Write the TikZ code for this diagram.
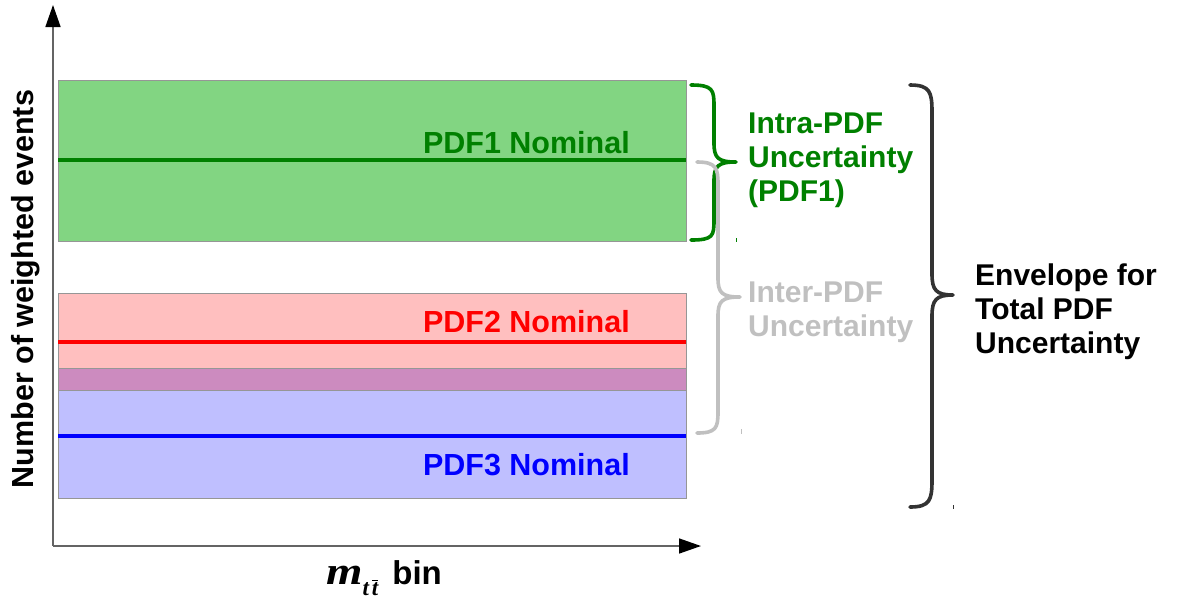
\documentclass[tikz,border=0pt]{standalone}
\usepackage{fontspec}
\setmainfont{Liberation Sans}
\newfontfamily\tnr{Liberation Serif}
\usetikzlibrary{arrows.meta}
\definecolor{greenfill}{RGB}{130,213,130}
\definecolor{dkgreen}{RGB}{0,128,0}
\definecolor{pinkfill}{RGB}{255,191,191}
\definecolor{bluefill}{RGB}{191,191,255}
\definecolor{overlapfill}{RGB}{204,139,191}
\definecolor{boxborder}{RGB}{150,150,150}
\definecolor{lightgray}{RGB}{192,192,192}
\definecolor{darkbrace}{RGB}{51,51,51}
\definecolor{axisgray}{RGB}{100,100,100}
\tikzset{
  band/.style={draw=boxborder, line width=1pt},
  nominal/.style={line width=3.8pt},
  bigtext/.style={font=\bfseries\fontsize{30.5}{34}\selectfont, inner sep=0pt},
  sidetext/.style={font=\bfseries\fontsize{30}{34}\selectfont, inner sep=0pt, align=left, anchor=north west},
  bracestyle/.style={line width=3.6pt, line cap=round, line join=round},
  axisline/.style={draw=axisgray, line width=1.5pt},
}
\begin{document}
\begin{tikzpicture}[x=1pt, y=-1pt]
\useasboundingbox (0,0) rectangle (1178,598);
% boxes
\draw[band, fill=greenfill] (58,80) rectangle (686,241);
\draw[band, fill=pinkfill] (58,293) rectangle (686,390);
\draw[band, fill=bluefill] (58,368) rectangle (686,498);
\draw[band, fill=overlapfill] (58,368) rectangle (686,390);
% nominal lines
\draw[nominal, draw=dkgreen] (58,160) -- (686,160);
\draw[nominal, draw=red] (58,342) -- (686,342);
\draw[nominal, draw=blue] (58,436) -- (686,436);
% nominal labels
\node[bigtext, text=dkgreen, anchor=base east] (n1) at (630,153) {PDF1 Nominal};
\node[bigtext, text=red, anchor=base east] (n2) at (630,332) {PDF2 Nominal};
\node[bigtext, text=blue, anchor=base east] (n3) at (630,475) {PDF3 Nominal};
% axes
\coordinate (origin) at (53,546);
\coordinate (ytip) at (53,5);
\coordinate (xtip) at (701,546);
\draw[axisline, -{Triangle[length=22pt, width=15pt, color=black]}] (origin) -- (ytip);
\draw[axisline, -{Triangle[length=22pt, width=15pt, color=black]}] (origin) -- (xtip);
% axis labels
\node[bigtext, rotate=90, anchor=base] (ylab) at (34,289) {Number of weighted events};
\node[inner sep=0pt, anchor=base west] (xlab) at (326,584)
  {{\tnr\bfseries\itshape\fontsize{39}{40}\selectfont\scalebox{1.2}[1]{m}}\raisebox{-11pt}{\tnr\bfseries\itshape\fontsize{23}{23}\selectfont t\hspace{3pt}$\overline{\mbox{t}}$}\hspace{14pt}{\bfseries\fontsize{33}{36}\selectfont bin}};
% green brace (intra)
\draw[bracestyle, draw=dkgreen] (691,85) .. controls (713,85) and (714,90) .. (714,106) -- (714,143) .. controls (714,158) and (718,162) .. (736,162) .. controls (718,162) and (714,166) .. (714,181) -- (714,220) .. controls (714,236) and (713,240) .. (691,240);
\draw[line width=1pt, draw=dkgreen] (736,238) -- (736,242);
% gray brace (inter)
\draw[bracestyle, draw=lightgray] (697,162) .. controls (716,162) and (718,168) .. (718,184) -- (718,278) .. controls (718,293) and (722,297) .. (740,297) .. controls (722,297) and (718,301) .. (718,316) -- (718,412) .. controls (718,428) and (716,433) .. (697,433);
\draw[line width=1pt, draw=lightgray] (741,429) -- (741,434);
% black brace (total)
\draw[bracestyle, draw=darkbrace] (910,85) .. controls (930,85) and (932,92) .. (932,112) -- (932,274) .. controls (932,290) and (936,295) .. (953,295) .. controls (936,295) and (932,300) .. (932,316) -- (932,480) .. controls (932,500) and (930,507) .. (910,507);
\draw[line width=1pt, draw=darkbrace] (953,505) -- (953,509);
% side labels
\node[sidetext, text=dkgreen] (intra) at (748,113) {Intra-PDF\\Uncertainty\\(PDF1)};
\node[sidetext, text=lightgray] (inter) at (748,282) {Inter-PDF\\Uncertainty};
\node[sidetext, text=black] (total) at (975,264) {Envelope for\\Total PDF\\Uncertainty};
\end{tikzpicture}
\end{document}
